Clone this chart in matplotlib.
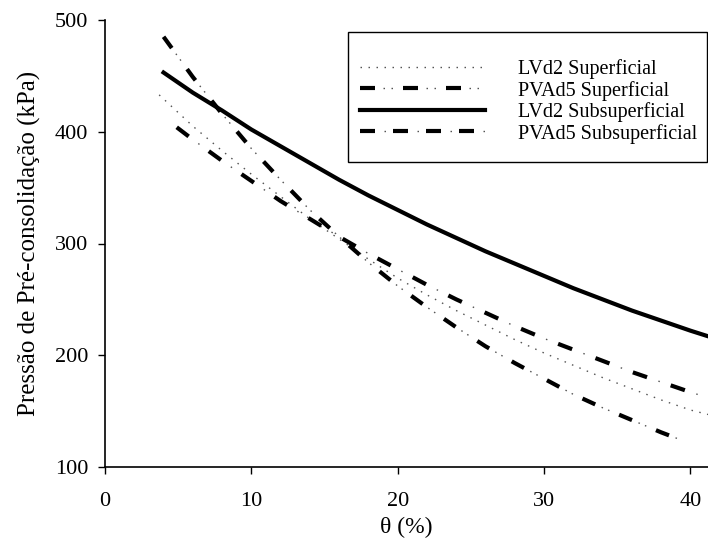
import matplotlib
matplotlib.use("Agg")
import matplotlib.pyplot as plt
from matplotlib.legend_handler import HandlerTuple
from matplotlib.lines import Line2D
from matplotlib.patches import Rectangle

plt.rcParams['font.family'] = ['Liberation Serif', 'DejaVu Serif']
plt.rcParams['lines.scale_dashes'] = False

# Data
x_lvd2_sup = [3.7, 6, 8, 10, 12, 14, 16, 18, 20, 22, 24, 26, 28, 30, 32, 34, 36, 38, 40, 41.2]
y_lvd2_sup = [433, 405, 383, 362, 342, 322, 304, 286, 269, 254, 240, 227, 214, 202, 191, 180, 170, 160, 151, 147]

x_pvad5_sup = [4.0, 6, 8, 10, 12, 14, 16, 18, 20, 22, 24, 26, 28, 30, 32, 34, 36, 38, 39.4]
y_pvad5_sup = [485, 449, 416, 385, 357, 330, 306, 283, 262, 243, 225, 208, 193, 179, 165, 153, 142, 131, 124]

x_lvd2_sub = [4.0, 6, 8, 10, 12, 14, 16, 18, 20, 22, 24, 26, 28, 30, 32, 34, 36, 38, 40, 41.2]
y_lvd2_sub = [453, 435, 419, 402, 387, 372, 357, 343, 330, 317, 305, 293, 282, 271, 260, 250, 240, 231, 222, 217]

x_pvad5_sub = [4.9, 6, 8, 10, 12, 14, 16, 18, 20, 22, 24, 26, 28, 30, 32, 34, 36, 38, 40, 41.2]
y_pvad5_sub = [404, 393, 374, 356, 338, 322, 306, 291, 277, 263, 250, 238, 226, 215, 205, 195, 185, 176, 167, 162]

labels = ["LVd2 Superficial", "PVAd5 Superficial", "LVd2 Subsuperficial", "PVAd5 Subsuperficial"]
xticks = [0, 10, 20, 30, 40]
yticks = [100, 200, 300, 400, 500]

px = 0.72  # points per pixel at dpi 100
W, H = 708, 545

fig = plt.figure(figsize=(7.08, 5.45), dpi=100)
ax = fig.add_axes([105/W, 78/H, 1 - 105/W, (467-20)/H])

grey = '#555555'

def dashdot_styles(period, dash, dots, dot_gap):
    """thick dash style and thin dot style, in points"""
    thick = (0, (dash*px, (period-dash)*px))
    seq = []
    first = dash + dot_gap
    for i in range(dots):
        seq += [1.5*px, (dot_gap-1.5)*px]
    used = dots*dot_gap
    seq[-1] = (period - used + dot_gap - 1.5)*px
    thin = ((period-first)*px, tuple(seq))
    return thick, thin

# LVd2 Superficial: thin grey dotted
dotted = (0, (1.5*px, 6.5*px))
ax.plot(x_lvd2_sup, y_lvd2_sup, color=grey, lw=1.0, linestyle=dotted)

# PVAd5 Superficial: thick dash + two dots
t2, d2 = dashdot_styles(40, 14, 2, 7)
ax.plot(x_pvad5_sup, y_pvad5_sup, color='black', lw=3.0, dash_capstyle='butt', linestyle=t2)
ax.plot(x_pvad5_sup, y_pvad5_sup, color=grey, lw=1.0, linestyle=d2)

# LVd2 Subsuperficial: thick solid
ax.plot(x_lvd2_sub, y_lvd2_sub, color='black', lw=3.0)

# PVAd5 Subsuperficial: thick dash + one dot
t4, d4 = dashdot_styles(40, 15, 1, 12)
ax.plot(x_pvad5_sub, y_pvad5_sub, color='black', lw=3.0, dash_capstyle='butt', linestyle=t4)
ax.plot(x_pvad5_sub, y_pvad5_sub, color=grey, lw=1.0, linestyle=d4)

ax.set_xlim(0, 41.2)
ax.set_ylim(100, 500)
ax.set_xticks(xticks)
ax.set_yticks(yticks)
ax.spines['top'].set_visible(False)
ax.spines['right'].set_visible(False)
for s in ['left', 'bottom']:
    ax.spines[s].set_linewidth(1.2)
ax.tick_params(direction='out', length=5, width=1.0, labelsize=16)
ax.tick_params(axis='x', pad=13)
ax.tick_params(axis='y', pad=7)
ax.set_xlabel("θ (%)", fontsize=17, labelpad=4)
ax.set_ylabel("Pressão de Pré-consolidação (kPa)", fontsize=18, labelpad=10)

# legend proxies (patterns as drawn in the reference legend)
lt2, ld2 = dashdot_styles(43, 15, 2, 8)
lt4, ld4 = dashdot_styles(33, 15, 1, 9)
p1 = Line2D([], [], color=grey, lw=1.0, linestyle=dotted)
p2 = (Line2D([], [], color='black', lw=3.0, dash_capstyle='butt', linestyle=lt2),
      Line2D([], [], color=grey, lw=1.0, linestyle=ld2))
p3 = Line2D([], [], color='black', lw=3.0)
p4 = (Line2D([], [], color='black', lw=3.0, dash_capstyle='butt', linestyle=lt4),
      Line2D([], [], color=grey, lw=1.0, linestyle=ld4))

leg = fig.legend([p1, p2, p3, p4], labels,
                 handler_map={tuple: HandlerTuple(ndivide=1, pad=0)},
                 loc='upper left', bbox_to_anchor=(348/W, 1 - 47/H),
                 fontsize=14.5, frameon=False,
                 handlelength=6.2, handletextpad=1.65, borderpad=0.6,
                 labelspacing=0.08, borderaxespad=0)

fig.patches.append(Rectangle((348/W, 1 - 162/H), (707-348)/W, (162-32)/H,
                             transform=fig.transFigure, fill=False,
                             edgecolor='black', lw=1.0, zorder=5))

fig.savefig("out.png", dpi=100)
